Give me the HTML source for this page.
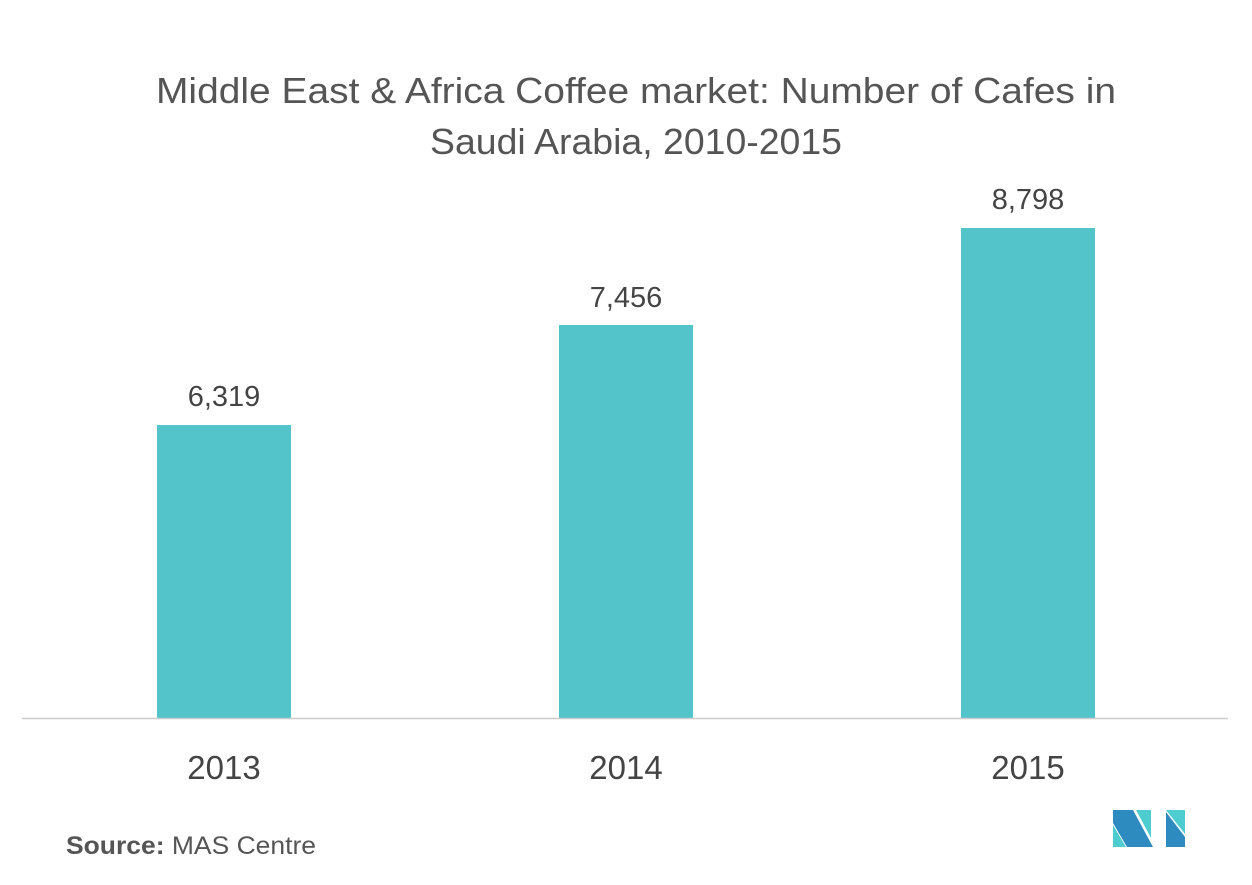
<!DOCTYPE html>
<html><head><meta charset="utf-8"><style>
body{margin:0;background:#fff;}
svg text{font-family:"Liberation Sans",sans-serif;}
</style></head><body>
<svg width="1252" height="880" viewBox="0 0 1252 880">
<rect width="1252" height="880" fill="#fff"/>
<text x="156" y="103" font-size="36" fill="#555" textLength="960" lengthAdjust="spacingAndGlyphs">Middle East &amp; Africa Coffee market: Number of Cafes in</text>
<text x="430" y="154" font-size="36" fill="#555" textLength="412" lengthAdjust="spacingAndGlyphs">Saudi Arabia, 2010-2015</text>
<rect x="157" y="425" width="134" height="293" fill="#52c4ca"/>
<rect x="559" y="325" width="134" height="393" fill="#52c4ca"/>
<rect x="961" y="228" width="134" height="490" fill="#52c4ca"/>
<line x1="22" y1="718.5" x2="1228" y2="718.5" stroke="#ccc" stroke-width="1.5"/>
<g font-size="29" fill="#444" text-anchor="middle">
<text x="224" y="406">6,319</text>
<text x="626" y="307">7,456</text>
<text x="1028" y="209">8,798</text>
</g>
<g font-size="33" fill="#444" text-anchor="middle">
<text x="224" y="779">2013</text>
<text x="626" y="779">2014</text>
<text x="1028" y="779">2015</text>
</g>
<text x="66" y="854" font-size="25" fill="#555" textLength="250" lengthAdjust="spacingAndGlyphs"><tspan font-weight="bold">Source:</tspan> MAS Centre</text>
<g transform="translate(1113,810)">
<polygon points="0,15 0,37 13,37" fill="#4ecdd0"/>
<polygon points="0,0 20,0 40,37 14,37 0,13" fill="#2e8bc0"/>
<polygon points="23,0 38,0 38,28" fill="#4ecdd0"/>
<polygon points="53,0 72,0 72,24 53,0" fill="#4ecdd0"/>
<polygon points="53,2 72,27 72,37 53,37" fill="#2e8bc0"/>
</g>
</svg>
</body></html>
